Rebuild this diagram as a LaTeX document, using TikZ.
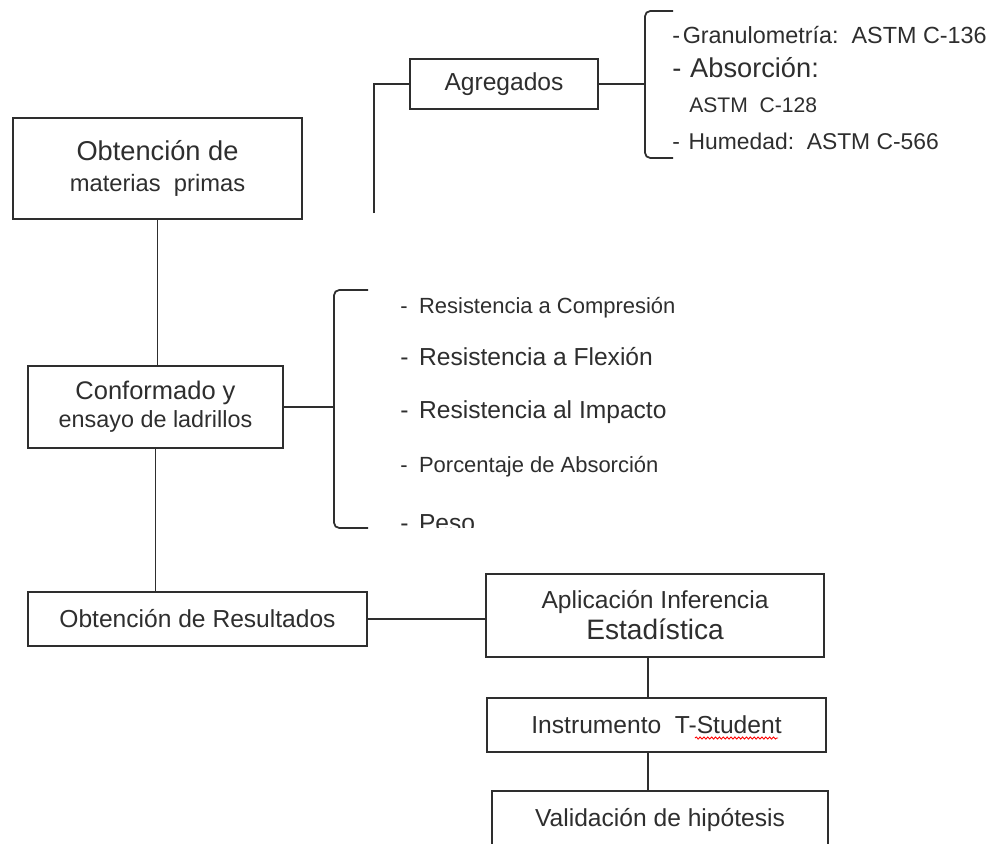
\documentclass[tikz,border=0pt]{standalone}
\usepackage{fontspec}
\setmainfont{Liberation Sans}
\usetikzlibrary{decorations.pathmorphing}

\definecolor{tinta}{HTML}{2E2E2E}

\begin{document}
\begin{tikzpicture}[x=0.02cm, y=-0.02cm,
    caja/.style={draw=tinta, line width=1pt, text=tinta, align=center, inner sep=0pt},
    linea/.style={draw=tinta, line width=1pt},
    lista/.style={anchor=mid west, text=tinta, inner sep=0pt},
  ]
  \clip (0,0) rectangle (1003,843);
  \fill[white] (0,0) rectangle (1003,843);
  % Cajas del proceso
  \node[caja, minimum width=5.78cm, minimum height=2.02cm, font=\fontsize{13.5}{18}\selectfont]
    (materias) at (157.5,168.5) {{\fontsize{15.5}{18}\selectfont Obtención de}\\materias\ \ primas};
  \node[caja, minimum width=3.76cm, minimum height=1cm, font=\fontsize{14}{17}\selectfont]
    (agregados) at (504,84) {Agregados};
  \node[caja, minimum width=5.1cm, minimum height=1.64cm, font=\fontsize{13.3}{16}\selectfont]
    (conformado) at (155.5,407) {{\fontsize{14.5}{16}\selectfont Conformado y}\\ensayo de ladrillos};
  \node[caja, minimum width=6.78cm, minimum height=1.08cm, font=\fontsize{14}{17}\selectfont]
    (resultados) at (197.5,619) {Obtención de Resultados};
  \node[caja, minimum width=6.76cm, minimum height=1.66cm, font=\fontsize{14}{17.6}\selectfont]
    (inferencia) at (655,615.5) {Aplicación Inferencia\\{\fontsize{16}{17.6}\selectfont Estadística}};
  \node[caja, minimum width=6.78cm, minimum height=1.08cm, font=\fontsize{14}{17}\selectfont]
    (tstudent) at (656.5,725) {Instrumento\ \ T-Student};
  \node[caja, minimum width=6.72cm, minimum height=1.16cm, font=\fontsize{14}{17}\selectfont]
    (validacion) at (660,820) {Validación de hipótesis};

  % Ensayos de agregados
  \draw[linea, rounded corners=3pt] (673,11) -- (645,11) -- (645,158) -- (673,158);
  \node[lista, font=\fontsize{13.3}{15}\selectfont] (granulo) at (672,39) {-\hspace{1.5pt}Granulometría:\ \ ASTM C-136};
  \node[lista, font=\fontsize{15.5}{17}\selectfont] (absorA) at (672,73) {-\hspace{5pt}Absorción:};
  \node[lista, font=\fontsize{12}{14}\selectfont] (astmA) at (689,108) {ASTM\ \ C-128};
  \node[lista, font=\fontsize{13}{15}\selectfont] (humedad) at (672,145) {-\hspace{5pt}Humedad:\ \ ASTM C-566};

  % Ensayos de ladrillos
  \draw[linea, rounded corners=3pt] (368,290) -- (334,290) -- (334,528) -- (368,528);
  \node[lista, font=\fontsize{12.5}{15}\selectfont] (compresion) at (400,309) {-\hspace{6.5pt}Resistencia a Compresión};
  \node[lista, font=\fontsize{14}{16}\selectfont] (flexion) at (400,361) {-\hspace{6pt}Resistencia a Flexión};
  \node[lista, font=\fontsize{14}{16}\selectfont] (impacto) at (400,414) {-\hspace{6pt}Resistencia al Impacto};
  \node[lista, font=\fontsize{12.5}{15}\selectfont] (porcentaje) at (400,468) {-\hspace{6.5pt}Porcentaje de Absorción};
  \begin{scope}
    \clip (390,495) rectangle (480,527);
    \node[anchor=base west, text=tinta, inner sep=0pt, font=\fontsize{14}{16}\selectfont]
      (peso) at (400,531) {-\hspace{6pt}Peso};
  \end{scope}

  % Conexiones
  \coordinate (pieA) at (374,213);
  \coordinate (llaveA) at (645,84);
  \coordinate (llaveB) at (334,404);
  \draw[linea] (materias.south) -- (materias.south |- conformado.north);
  \draw[linea] (conformado.south) -- (conformado.south |- resultados.north);
  \draw[linea] (pieA) |- (agregados.west);
  \draw[linea] (agregados.east) -- (llaveA);
  \draw[linea] (conformado.east) -- (conformado.east -| llaveB);
  \draw[linea] (resultados.east) -- (inferencia.west |- resultados.east);
  \draw[linea] ([xshift=-0.14cm]inferencia.south) -- ([xshift=-0.14cm]inferencia.south |- tstudent.north);
  \draw[linea] ([xshift=-0.17cm]tstudent.south) -- ([xshift=-0.17cm]tstudent.south |- validacion.north);

  % Subrayado del corrector
  \draw[red, line width=0.5pt, decorate, decoration={snake, amplitude=0.6pt, segment length=2.2pt}]
    (695,738) -- (778,738);
\end{tikzpicture}
\end{document}
